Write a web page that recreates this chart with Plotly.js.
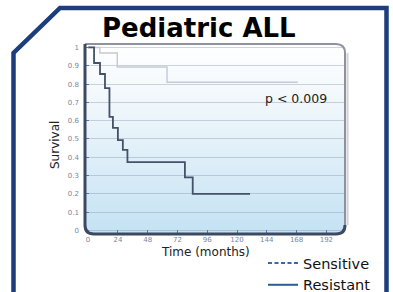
<!DOCTYPE html>
<html>
<head>
<meta charset="utf-8">
<script src="https://cdn.plot.ly/plotly-3.0.1.min.js"></script>
<style>
html,body{margin:0;padding:0;background:#fff;}
#chart{width:393px;height:292px;}
</style>
</head>
<body>
<div id="chart"></div>
<script>
// ---- data ----
const resistantMonths = [0, 4.8, 9.6, 13.6, 17.2, 20, 24, 28, 31.7, 78, 84.3, 130.5];
const resistantSurvival = [1, 0.915, 0.855, 0.778, 0.62, 0.56, 0.493, 0.44, 0.373, 0.29, 0.199, 0.199];
const sensitiveMonths = [0, 9.5, 23.5, 63.6, 169];
const sensitiveSurvival = [1, 0.97, 0.893, 0.81, 0.81];
const xTickVals = [0, 24, 48, 72, 96, 120, 144, 168, 192];
const yTickVals = [0, 0.1, 0.2, 0.3, 0.4, 0.5, 0.6, 0.7, 0.8, 0.9, 1];
const seriesNames = ["Sensitive", "Resistant"];
const chartTitle = "Pediatric ALL";
const pValueText = "p < 0.009";

const FONT = "DejaVu Sans, Verdana, sans-serif";

// background gradient for the rounded plot panel
const bgSvg = "<svg xmlns='http://www.w3.org/2000/svg' width='260' height='190' viewBox='0 0 260 190' preserveAspectRatio='none'>" +
  "<defs><linearGradient id='g' x1='0' y1='0' x2='0' y2='1'>" +
  "<stop offset='0' stop-color='#ffffff'/><stop offset='0.35' stop-color='#eef6fb'/><stop offset='1' stop-color='#c4e2f3'/>" +
  "</linearGradient></defs><rect x='0' y='0' width='260' height='190' rx='9' ry='9' fill='url(#g)'/></svg>";
const bgUri = "data:image/svg+xml;base64," + btoa(bgSvg);

const rx = 9 / 260, ry = 9 / 190;

const traces = [
  {
    x: sensitiveMonths, y: sensitiveSurvival, type: "scatter", mode: "lines",
    line: {shape: "hv", color: "#c5c9d3", width: 1.4},
    showlegend: false, hoverinfo: "skip"
  },
  {
    x: resistantMonths, y: resistantSurvival, type: "scatter", mode: "lines",
    line: {shape: "hv", color: "#435169", width: 1.8},
    showlegend: false, hoverinfo: "skip"
  },
  // legend entries
  {
    x: [null], y: [null], type: "scatter", mode: "lines", name: seriesNames[0],
    line: {color: "#2f6db0", width: 2, dash: "4px,2.5px"}
  },
  {
    x: [null], y: [null], type: "scatter", mode: "lines", name: seriesNames[1],
    line: {color: "#2a5e92", width: 2}
  }
];

const layout = {
  width: 393, height: 292,
  margin: {l: 85, r: 48, t: 44, b: 58, autoexpand: false},
  paper_bgcolor: "#ffffff",
  plot_bgcolor: "rgba(0,0,0,0)",
  font: {family: FONT, color: "#222"},
  showlegend: true,
  legend: {
    x: (263 - 85) / 260, xanchor: "left",
    y: (234 - 247) / 190, yanchor: "top",
    bgcolor: "rgba(0,0,0,0)",
    font: {family: FONT, size: 14.5, color: "#111"},
    tracegroupgap: 0, itemwidth: 30
  },
  xaxis: {
    range: [-2.5, 207], tickvals: xTickVals, ticktext: xTickVals.map(String),
    ticks: "inside", ticklen: 4, tickcolor: "#5b73b0", tickwidth: 1,
    tickfont: {family: FONT, size: 7, color: "#7a86a0"},
    showgrid: false, zeroline: false, showline: false, fixedrange: true
  },
  yaxis: {
    range: [-0.020, 1.019], tickvals: yTickVals,
    ticks: "inside", ticklen: 4, tickcolor: "#5b73b0", tickwidth: 1,
    ticklabelstandoff: 5,
    tickfont: {family: FONT, size: 7, color: "#7a86a0"},
    showgrid: true, gridcolor: "rgba(120,135,160,0.35)", gridwidth: 1,
    zeroline: false, showline: false, fixedrange: true
  },
  images: [{
    source: bgUri, xref: "paper", yref: "paper", x: 0, y: 1, sizex: 1, sizey: 1,
    xanchor: "left", yanchor: "top", sizing: "stretch", layer: "below"
  }],
  shapes: [
    // outer navy frame with cut corner
    {type: "path", xref: "paper", yref: "paper",
     path: "M -0.275,-0.36 L -0.275,0.9526 L -0.0962,1.1895 L 1.1596,1.1895 L 1.1596,-0.36",
     line: {color: "#1d3e7c", width: 4.5}},
    // panel shadow on the right
    {type: "path", xref: "paper", yref: "paper",
     path: `M ${1 + 2.5/260},${ry} L ${1 + 2.5/260},${1 - ry}`,
     line: {color: "rgba(170,170,185,0.55)", width: 2}},
    // panel top + right edge (gray)
    {type: "path", xref: "paper", yref: "paper",
     path: `M 0,1 L ${1 - rx},1 Q 1,1 1,${1 - ry} L 1,${ry}`,
     line: {color: "#8f919f", width: 2}},
    // panel left + bottom edge (dark)
    {type: "path", xref: "paper", yref: "paper",
     path: `M 0,1 L 0,${ry} Q 0,0 ${rx},0 L ${1 - rx},0 Q 1,0 1,${ry}`,
     line: {color: "#3d4862", width: 3}}
  ],
  annotations: [
    {text: "<b>" + chartTitle + "</b>", xref: "paper", yref: "paper",
     x: (198.5 - 85) / 260, y: (234 - 28) / 190, xanchor: "center", yanchor: "middle",
     showarrow: false, font: {family: FONT, size: 26, color: "#000"}},
    {text: "Survival", xref: "paper", yref: "paper", textangle: -90,
     x: (55 - 85) / 260, y: (234 - 145) / 190, xanchor: "center", yanchor: "middle",
     showarrow: false, font: {family: FONT, size: 12, color: "#222"}},
    {text: "Time (months)", xref: "paper", yref: "paper",
     x: (205 - 85) / 260, y: (234 - 252) / 190, xanchor: "center", yanchor: "middle",
     showarrow: false, font: {family: FONT, size: 12, color: "#222"}},
    {text: pValueText, xref: "x", yref: "y",
     x: 167.5, y: 0.72, xanchor: "center", yanchor: "middle",
     showarrow: false, font: {family: FONT, size: 12.5, color: "#222"}}
  ]
};

Plotly.newPlot("chart", traces, layout, {staticPlot: true, displayModeBar: false});
</script>
</body>
</html>
